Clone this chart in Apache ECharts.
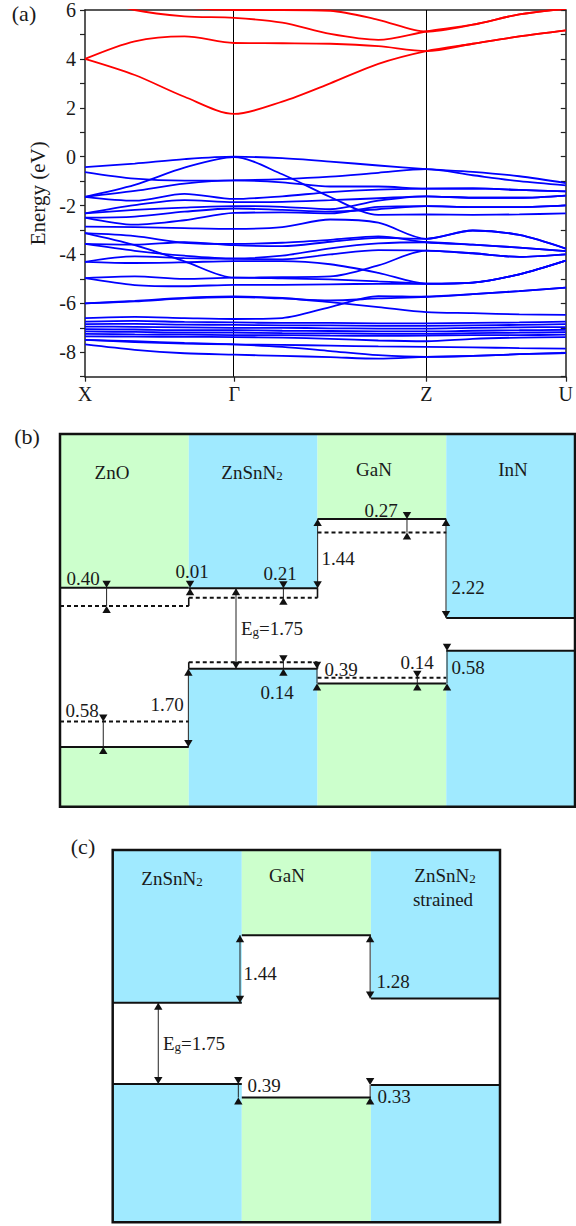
<!DOCTYPE html>
<html><head><meta charset="utf-8">
<script src="https://cdn.jsdelivr.net/npm/echarts@6/dist/echarts.min.js"></script>
<style>html,body{margin:0;padding:0;background:#fff}#c{width:576px;height:1226px}</style>
</head><body><div id="c"></div>
<script>
// ===== Panel (a): band structure =====
const kTicks = [0, 1.505, 3.443, 4.85];
const kLabels = ['X', 'Γ', 'Z', 'U'];
// sample k positions along X–Γ–Z–U
const kPts = [0, 0.502, 1.003, 1.505, 1.990, 2.474, 2.959, 3.443, 3.912, 4.381, 4.85];
const conductionBands = [
  [4.00, 3.34, 2.45, 1.75, 2.25, 3.00, 3.80, 4.32, 4.62, 4.92, 5.17],
  [4.00, 4.72, 4.92, 4.65, 4.64, 4.62, 4.52, 4.32, 4.62, 4.92, 5.17],
  [6.60, 6.00, 5.74, 5.68, 5.48, 5.02, 4.78, 5.12, 5.40, 5.82, 6.05],
  [6.80, 6.50, 6.12, 6.00, 6.00, 5.97, 5.60, 5.12, 5.40, 5.82, 6.05]
];
const valenceBands = [
  [-0.43, -0.28, -0.10, 0.00, -0.06, -0.20, -0.36, -0.51, -0.62, -0.80, -1.08],
  [-0.63, -0.90, -0.98, -0.97, -0.92, -0.82, -0.66, -0.51, -0.76, -1.00, -1.17],
  [-1.64, -1.15, -0.45, -0.02, -0.72, -1.65, -2.38, -2.36, -2.38, -2.36, -2.32],
  [-1.64, -1.40, -1.10, -0.97, -1.05, -1.22, -1.22, -1.31, -1.30, -1.36, -1.42],
  [-1.64, -1.80, -1.52, -1.73, -1.62, -1.45, -1.35, -1.31, -1.30, -1.36, -1.42],
  [-2.32, -1.98, -1.78, -1.86, -1.85, -1.78, -1.70, -1.62, -1.68, -1.68, -1.59],
  [-2.32, -2.18, -2.08, -2.02, -2.05, -2.15, -1.80, -1.62, -1.68, -1.68, -1.59],
  [-2.49, -2.45, -2.25, -2.12, -2.18, -2.25, -2.15, -2.02, -2.06, -2.06, -1.99],
  [-2.49, -2.78, -2.60, -2.30, -2.28, -2.32, -2.05, -2.02, -2.06, -2.06, -1.99],
  [-2.86, -2.88, -2.92, -2.95, -2.88, -2.57, -2.70, -3.36, -3.02, -3.20, -3.76],
  [-3.13, -3.62, -4.28, -4.95, -4.93, -4.90, -4.45, -3.84, -3.95, -4.10, -4.00],
  [-3.13, -3.25, -3.52, -3.57, -3.52, -3.40, -3.26, -3.50, -3.60, -3.72, -3.86],
  [-3.57, -3.60, -3.50, -3.62, -3.66, -3.48, -3.32, -3.36, -3.02, -3.20, -3.76],
  [-3.57, -3.85, -4.05, -4.16, -4.05, -3.75, -3.55, -3.50, -3.60, -3.72, -3.86],
  [-4.30, -4.08, -4.15, -4.18, -4.20, -4.00, -3.82, -3.84, -3.95, -4.10, -4.00],
  [-4.30, -4.35, -4.32, -4.27, -4.27, -4.40, -4.75, -5.19, -5.15, -4.81, -4.25],
  [-4.97, -4.90, -5.00, -4.95, -4.98, -5.02, -5.10, -5.19, -5.15, -4.81, -4.25],
  [-4.97, -5.25, -5.30, -5.24, -5.24, -5.22, -5.20, -5.20, -5.15, -4.81, -4.25],
  [-6.00, -5.90, -5.78, -5.72, -5.78, -5.95, -6.15, -6.36, -6.40, -6.45, -6.47],
  [-6.00, -5.92, -5.80, -5.74, -5.80, -5.88, -5.80, -5.73, -5.62, -5.50, -5.36],
  [-6.60, -6.55, -6.60, -6.64, -6.60, -6.15, -5.70, -5.73, -5.62, -5.50, -5.36],
  [-6.75, -6.72, -6.76, -6.78, -6.80, -6.80, -6.82, -6.82, -6.80, -6.78, -6.75],
  [-6.85, -6.84, -6.87, -6.88, -6.90, -6.90, -6.92, -6.92, -6.90, -6.88, -6.85],
  [-6.95, -6.96, -6.98, -7.00, -7.00, -7.02, -7.03, -7.03, -7.00, -6.98, -6.97],
  [-7.05, -7.07, -7.10, -7.10, -7.12, -7.13, -7.15, -7.15, -7.12, -7.10, -7.08],
  [-7.15, -7.17, -7.20, -7.20, -7.22, -7.23, -7.25, -7.25, -7.22, -7.20, -7.18],
  [-7.25, -7.27, -7.28, -7.30, -7.30, -7.32, -7.33, -7.32, -7.30, -7.30, -7.28],
  [-7.35, -7.36, -7.37, -7.38, -7.40, -7.45, -7.52, -7.55, -7.45, -7.40, -7.38],
  [-7.49, -7.58, -7.65, -7.68, -7.70, -7.73, -7.76, -7.78, -7.80, -7.83, -7.85],
  [-7.68, -7.90, -8.04, -8.10, -8.15, -8.20, -8.26, -8.19, -8.15, -8.08, -8.03],
  [-7.49, -7.55, -7.62, -7.68, -7.78, -7.95, -8.12, -8.19, -8.15, -8.08, -8.03]
];

// ===== Panel (b): band alignment ZnO / ZnSnN2 / GaN / InN (eV) =====
const materialsB = ['ZnO', 'ZnSnN{s|2}', 'GaN', 'InN'];
const cbB = [1.76, 1.75, 3.25, 1.10];
const vbB = [-1.70, 0.00, -0.32, 0.39];
const cbDashB = [1.36, 1.54, 2.96, null];
const vbDashB = [-1.15, 0.14, -0.20, null];
const connXB = [1.0, 2.0, 1.0, 2.0];
const connTopB = [1.54, 1.75, 0.14, 0.14];
const connBotB = [1.36, 1.54, 0.00, 0.00];
const arrowXB = [0.362, 1.01, 1.735, 1.367, 1.735, 0.997, 0.336, 2.001, 2.695, 2.998, 1.996, 2.775, 3.006];
const arrowTopB = [1.76, 1.76, 1.75, 1.75, 0.14, 0.00, -1.15, 3.25, 3.25, 3.25, 0.00, -0.20, 0.39];
const arrowBotB = [1.36, 1.75, 1.54, 0.00, 0.00, -1.70, -1.70, 1.75, 2.96, 1.10, -0.32, -0.32, -0.32];
const arrowTextB = ['0.40', '0.01', '0.21', 'E{s|g}=1.75', '0.14', '1.70', '0.58', '1.44', '0.27', '2.22', '0.39', '0.14', '0.58'];

// ===== Panel (c): ZnSnN2 / GaN / ZnSnN2 strained (eV) =====
const materialsC = ['ZnSnN{s|2}', 'GaN', 'ZnSnN{s|2}', 'strained'];
const cbC = [1.75, 3.20, 1.84];
const vbC = [0.00, -0.29, -0.02];
const arrowXC = [0.986, 0.353, 0.973, 1.994, 1.994];
const arrowTopC = [3.20, 1.75, 0.00, 3.20, -0.02];
const arrowBotC = [1.75, 0.00, -0.29, 1.84, -0.29];
const arrowTextC = ['1.44', 'E{s|g}=1.75', '0.39', '1.28', '0.33'];

// ===== styles / layout =====
const FONT = "'Liberation Serif', 'Times New Roman', serif";
const TXT = '#1a1a1a';
const INK = '#111';
const GREEN = '#ccffcc', BLUE = '#a0eaff';
const colorsB = [GREEN, BLUE, GREEN, BLUE];
const colorsC = [BLUE, GREEN, BLUE];
const kindB = ['in', 'in', 'in', 'out', 'in', 'out', 'in', 'out', 'in', 'out', 'in', 'in', 'in'];
const kindC = ['out', 'out', 'in', 'out', 'in'];
const labelPosB = [[83, 578], [192, 571], [280, 573], [272, 628], [277, 692], [167, 704], [82, 710],
  [338, 558], [381, 510], [468, 587], [341, 669], [417, 662], [468, 667]];
const labelPosC = [[260, 973], [194, 1043], [264, 1085], [393, 981], [394, 1096]];
const titlePosB = [[112, 472], [252, 472], [374, 469], [513, 469]];
const titlePosC = [[172, 878], [287, 875], [445, 875], [443, 899]];
const yRangeB = [-3.0, 5.1];
const yRangeC = [-2.97, 5.03];

function txt(t, x, y, size) {
  return {
    type: 'text', x: x, y: y, z: 100, silent: true,
    style: {
      text: t, fill: TXT, fontSize: size, fontFamily: FONT, align: 'center', verticalAlign: 'middle',
      rich: { s: { fontSize: Math.round(size * 0.68), fontFamily: FONT, fill: TXT, verticalAlign: 'bottom', lineHeight: Math.round(size * 0.8) } }
    }
  };
}

function panelSeries(p) {
  const s = [];
  const base = { type: 'custom', xAxisIndex: p.xi, yAxisIndex: p.yi, silent: true, animation: false };
  const cols = p.cb.map((c, i) => [i, c, p.vb[i]]);
  // coloured regions above CB and below VB
  s.push(Object.assign({}, base, {
    z: 1, data: cols,
    renderItem(params, api) {
      const i = api.value(0), c = api.value(1), v = api.value(2);
      const a = api.coord([i, p.ymax]), b = api.coord([i + 1, c]);
      const d = api.coord([i, v]), e = api.coord([i + 1, p.ymin]);
      const fill = p.colors[params.dataIndex];
      return { type: 'group', children: [
        { type: 'rect', shape: { x: a[0], y: a[1], width: b[0] - a[0], height: b[1] - a[1] }, style: { fill: fill } },
        { type: 'rect', shape: { x: d[0], y: d[1], width: e[0] - d[0], height: e[1] - d[1] }, style: { fill: fill } }
      ] };
    }
  }));
  // solid band edges
  s.push(Object.assign({}, base, {
    z: 3, data: cols,
    renderItem(params, api) {
      const i = api.value(0);
      const ch = [];
      [api.value(1), api.value(2)].forEach(val => {
        const a = api.coord([i, val]), b = api.coord([i + 1, val]);
        ch.push({ type: 'line', shape: { x1: a[0], y1: a[1], x2: b[0], y2: b[1] }, style: { stroke: INK, lineWidth: 2 } });
      });
      return { type: 'group', children: ch };
    }
  }));
  // dashed levels
  if (p.cbD) {
    const dd = [];
    p.cbD.forEach((v, i) => { if (v !== null) dd.push([i, v]); });
    p.vbD.forEach((v, i) => { if (v !== null) dd.push([i, v]); });
    s.push(Object.assign({}, base, {
      z: 3, data: dd,
      renderItem(params, api) {
        const i = api.value(0), v = api.value(1);
        const a = api.coord([i, v]), b = api.coord([i + 1, v]);
        return { type: 'line', shape: { x1: a[0], y1: a[1], x2: b[0], y2: b[1] }, style: { stroke: INK, lineWidth: 2, lineDash: [4, 3] } };
      }
    }));
  }
  // short vertical connectors
  if (p.connX) {
    s.push(Object.assign({}, base, {
      z: 3, data: p.connX.map((x, i) => [x, p.connTop[i], p.connBot[i]]),
      renderItem(params, api) {
        const a = api.coord([api.value(0), api.value(1)]), b = api.coord([api.value(0), api.value(2)]);
        return { type: 'line', shape: { x1: a[0], y1: a[1], x2: b[0], y2: b[1] }, style: { stroke: INK, lineWidth: 1.6 } };
      }
    }));
  }
  // arrows
  s.push(Object.assign({}, base, {
    z: 4, data: p.ax.map((x, i) => [x, p.at[i], p.ab[i]]),
    renderItem(params, api) {
      const a = api.coord([api.value(0), api.value(1)]), b = api.coord([api.value(0), api.value(2)]);
      const x = a[0], y1 = a[1], y2 = b[1], w = 4.2, h = 7;
      const kind = p.kind[params.dataIndex];
      const ch = [{ type: 'line', shape: { x1: x, y1: y1, x2: x, y2: y2 }, style: { stroke: '#222', lineWidth: 1 } }];
      let t1, t2;
      if (kind === 'out') {
        t1 = [[x, y1], [x - w, y1 + h], [x + w, y1 + h]];
        t2 = [[x, y2], [x - w, y2 - h], [x + w, y2 - h]];
      } else {
        t1 = [[x, y1], [x - w, y1 - h], [x + w, y1 - h]];
        t2 = [[x, y2], [x - w, y2 + h], [x + w, y2 + h]];
      }
      ch.push({ type: 'polygon', shape: { points: t1 }, style: { fill: INK } });
      ch.push({ type: 'polygon', shape: { points: t2 }, style: { fill: INK } });
      return { type: 'group', children: ch };
    }
  }));
  // frame
  s.push(Object.assign({}, base, {
    z: 6, data: [[0, p.ymin]],
    renderItem(params, api) {
      const a = api.coord([0, p.ymax]), b = api.coord([p.n, p.ymin]);
      return { type: 'rect', shape: { x: a[0], y: a[1], width: b[0] - a[0], height: b[1] - a[1] }, style: { fill: 'none', stroke: INK, lineWidth: 2.5 } };
    }
  }));
  return s;
}

const series = [];
conductionBands.forEach(b => series.push({
  type: 'line', xAxisIndex: 0, yAxisIndex: 0, data: kPts.map((k, j) => [k, b[j]]),
  showSymbol: false, smooth: 0.3, silent: true, clip: true,
  lineStyle: { color: '#ff0000', width: 1.8 }, z: 3
}));
valenceBands.forEach(b => series.push({
  type: 'line', xAxisIndex: 0, yAxisIndex: 0, data: kPts.map((k, j) => [k, b[j]]),
  showSymbol: false, smooth: 0.3, silent: true, clip: true,
  lineStyle: { color: '#0000ff', width: 1.8 }, z: 3
}));
series[0].markLine = {
  silent: true, symbol: 'none', label: { show: false }, z: 2,
  lineStyle: { color: '#000', width: 1, type: 'solid' },
  data: [{ xAxis: kTicks[1] }, { xAxis: kTicks[2] }]
};

panelSeries({ xi: 2, yi: 2, cb: cbB, vb: vbB, cbD: cbDashB, vbD: vbDashB, colors: colorsB,
  connX: connXB, connTop: connTopB, connBot: connBotB,
  ax: arrowXB, at: arrowTopB, ab: arrowBotB, kind: kindB, ymin: yRangeB[0], ymax: yRangeB[1], n: 4 })
  .forEach(x => series.push(x));
panelSeries({ xi: 3, yi: 3, cb: cbC, vb: vbC, colors: colorsC,
  ax: arrowXC, at: arrowTopC, ab: arrowBotC, kind: kindC, ymin: yRangeC[0], ymax: yRangeC[1], n: 3 })
  .forEach(x => series.push(x));

const graphics = [
  txt('(a)', 24, 13, 22), txt('(b)', 27, 436, 22), txt('(c)', 83, 846, 22)
];
materialsB.forEach((m, i) => graphics.push(txt(m, titlePosB[i][0], titlePosB[i][1], 19)));
materialsC.forEach((m, i) => graphics.push(txt(m, titlePosC[i][0], titlePosC[i][1], 19)));
arrowTextB.forEach((t, i) => graphics.push(txt(t, labelPosB[i][0], labelPosB[i][1], 19)));
arrowTextC.forEach((t, i) => graphics.push(txt(t, labelPosC[i][0], labelPosC[i][1], 19)));

const axLine = { show: true, onZero: false, lineStyle: { color: '#222', width: 1.5 } };
const tickStyle = { color: '#222', width: 1.2 };
const hidden = { show: false };
const option = {
  animation: false,
  backgroundColor: '#fff',
  textStyle: { fontFamily: FONT },
  grid: [
    { left: 85, top: 6, width: 485, height: 370.7 },
    { left: 60, top: 434, width: 515, height: 372.7 },
    { left: 112.7, top: 850, width: 387.3, height: 372.3 }
  ],
  xAxis: [
    { gridIndex: 0, type: 'value', min: 0, max: 4.85, position: 'bottom', axisLine: axLine,
      axisTick: { show: true, customValues: kTicks, length: 5, lineStyle: tickStyle },
      axisLabel: { show: true, customValues: kTicks, showMinLabel: true, showMaxLabel: true, margin: 7,
        formatter: v => { let bi = 0; kTicks.forEach((t, i) => { if (Math.abs(t - v) < Math.abs(kTicks[bi] - v)) bi = i; }); return kLabels[bi]; },
        fontSize: 20, fontFamily: FONT, color: TXT },
      splitLine: hidden },
    { gridIndex: 0, type: 'value', min: 0, max: 4.85, position: 'top', axisLine: axLine,
      axisTick: hidden, axisLabel: hidden, splitLine: hidden },
    { gridIndex: 1, type: 'value', min: 0, max: 4, show: false },
    { gridIndex: 2, type: 'value', min: 0, max: 3, show: false }
  ],
  yAxis: [
    { gridIndex: 0, type: 'value', min: -9, max: 6, interval: 1, position: 'left', axisLine: axLine,
      axisTick: { show: true, length: 5, lineStyle: tickStyle },
      axisLabel: { formatter: v => (Math.round(v) % 2 === 0 ? String(Math.round(v)) : ''), fontSize: 20, fontFamily: FONT, color: TXT, margin: 9 },
      splitLine: hidden,
      name: 'Energy (eV)', nameLocation: 'middle', nameGap: 36, nameRotate: 90,
      nameTextStyle: { fontSize: 21, fontFamily: FONT, color: TXT } },
    { gridIndex: 0, type: 'value', min: -9, max: 6, interval: 1, position: 'right', axisLine: axLine,
      axisTick: { show: true, inside: true, length: 5, lineStyle: tickStyle }, axisLabel: hidden, splitLine: hidden },
    { gridIndex: 1, type: 'value', min: yRangeB[0], max: yRangeB[1], show: false },
    { gridIndex: 2, type: 'value', min: yRangeC[0], max: yRangeC[1], show: false }
  ],
  graphic: { elements: graphics },
  series: series
};
const chart = echarts.init(document.getElementById('c'), null, { renderer: 'svg', width: 576, height: 1226 });
chart.setOption(option);
</script>
</body></html>
